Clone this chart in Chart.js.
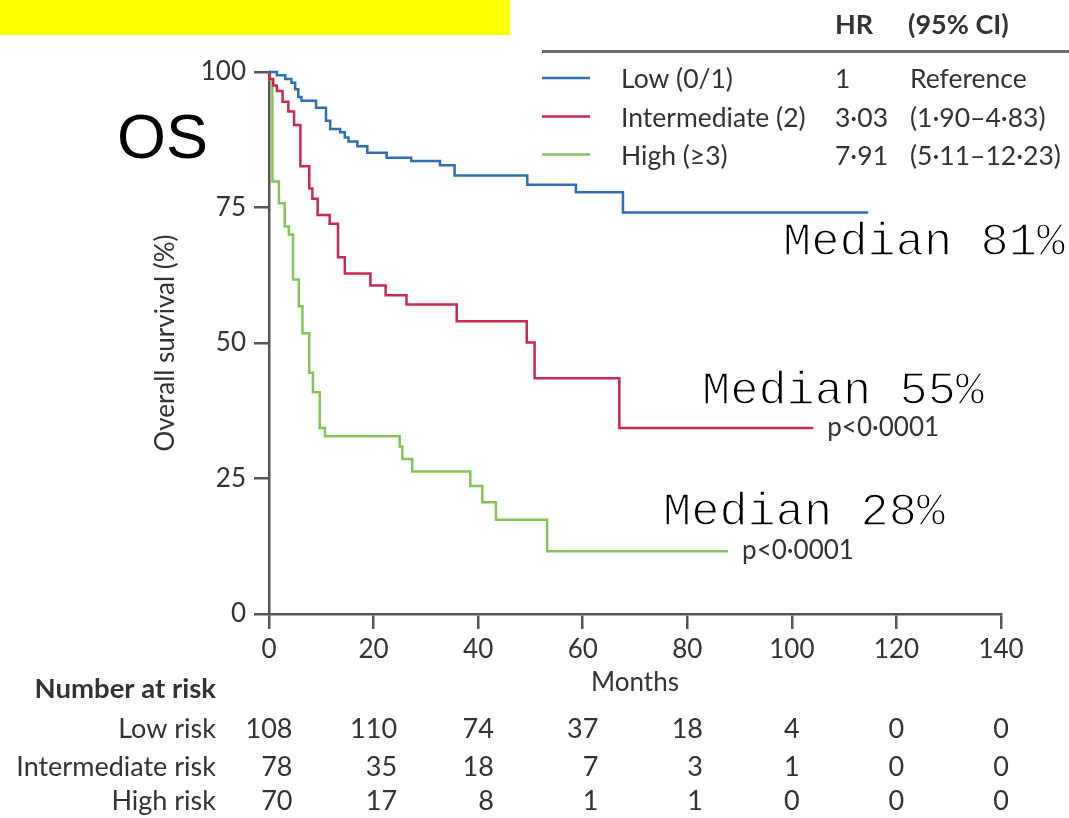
<!DOCTYPE html>
<html>
<head>
<meta charset="utf-8">
<title>Overall survival by risk group</title>
<script src="https://cdn.jsdelivr.net/npm/chart.js@4.4.1/dist/chart.umd.min.js"></script>
<style>
  html, body { margin: 0; padding: 0; background: #fff; }
  canvas { display: block; }
</style>
</head>
<body>
<canvas id="osChart" width="1069" height="818"></canvas>
<script>
// risk groups (legend) and hazard ratios
const groupNames = ["Low (0/1)", "Intermediate (2)", "High (\u22653)"];
const hrValues = ["1", "3\u00b703", "7\u00b791"];
const ciValues = ["Reference", "(1\u00b790\u20134\u00b783)", "(5\u00b711\u201312\u00b723)"];
const medianLabels = ["Median 81%", "Median 55%", "Median 28%"];
const groupColors = ["#2f6fb3", "#c9294f", "#86c45a"];

// Kaplan-Meier steps: month of drop, survival (%) after it
const lowMonths = [0, 1.5, 3.1, 4.3, 5.0, 5.6, 6.2, 9.0, 10.9, 11.7, 13.6, 14.5, 15.2, 16.9, 18.8, 22.5, 27.2, 32.7, 35.5, 49.4, 58.7, 67.7, 114.6];
const lowSurv = [100, 99.4, 98.7, 98.0, 96.8, 95.4, 94.7, 93.4, 91.0, 89.5, 88.9, 87.9, 87.2, 86.3, 85.1, 84.2, 83.6, 82.8, 80.9, 79.2, 77.8, 74.1, 74.1];

const intMonths = [0, 0.1, 0.8, 1.5, 2.6, 3.7, 4.8, 6.0, 7.7, 8.3, 9.3, 11.6, 13.2, 14.5, 19.4, 22.3, 26.3, 35.9, 49.3, 50.8, 67.0, 104.1];
const intSurv = [100, 98.7, 97.5, 96.5, 94.5, 92.7, 90.2, 82.6, 78.5, 76.6, 73.6, 72.0, 65.8, 62.8, 60.6, 58.8, 57.1, 54.0, 50.1, 43.5, 34.3, 34.3];

const highMonths = [0, 0.2, 0.65, 1.9, 3.0, 3.8, 4.6, 5.7, 6.4, 7.7, 8.4, 9.7, 10.7, 25.0, 25.5, 27.4, 38.5, 40.8, 43.4, 53.2, 87.8];
const highSurv = [100, 98.6, 79.8, 75.8, 71.5, 70.0, 61.7, 56.8, 51.8, 44.5, 40.9, 34.3, 32.8, 30.9, 28.6, 26.3, 23.6, 20.6, 17.4, 11.6, 11.6];

// number at risk table
const riskTimes = [0, 20, 40, 60, 80, 100, 120, 140];
const riskRowNames = ["Low risk", "Intermediate risk", "High risk"];
const lowAtRisk = [108, 110, 74, 37, 18, 4, 0, 0];
const intAtRisk = [78, 35, 18, 7, 3, 1, 0, 0];
const highAtRisk = [70, 17, 8, 1, 1, 0, 0, 0];

const TEXT = "#333";
const AXIS = "#555";

function toPoints(months, surv) {
  return months.map((m, i) => ({ x: m, y: surv[i] }));
}

// thin, courier-like text: fill then eat the edges back with white
function thinText(ctx, str, x, y) {
  ctx.fillStyle = "#000";
  ctx.fillText(str, x, y);
  ctx.strokeStyle = "#fff";
  ctx.lineWidth = 1.4;
  ctx.lineJoin = "round";
  ctx.strokeText(str, x, y);
}

const extras = {
  id: "osExtras",
  beforeDraw(chart) {
    const ctx = chart.ctx;
    ctx.save();
    ctx.fillStyle = "#ffff00";
    ctx.fillRect(0, 0, 510, 35);
    ctx.restore();
  },
  afterDraw(chart) {
    const ctx = chart.ctx;
    const xs = chart.scales.x;
    const ys = chart.scales.y;
    ctx.save();
    ctx.textBaseline = "alphabetic";
    ctx.textAlign = "left";

    // big OS label
    ctx.fillStyle = "#000";
    ctx.font = "63px 'Liberation Sans'";
    ctx.fillText("OS", 117, 158);

    // legend / HR table
    ctx.fillStyle = TEXT;
    ctx.font = "bold 27px Lato";
    ctx.fillText("HR", 835, 34);
    ctx.fillText("(95% CI)", 908, 34);
    ctx.strokeStyle = "#6b6b6b";
    ctx.lineWidth = 3;
    ctx.beginPath();
    ctx.moveTo(542, 51.5);
    ctx.lineTo(1069, 51.5);
    ctx.stroke();

    const lineY = [78, 116.5, 154.5];
    ctx.font = "26.5px Lato";
    groupNames.forEach((name, i) => {
      ctx.strokeStyle = groupColors[i];
      ctx.lineWidth = 2.5;
      ctx.beginPath();
      ctx.moveTo(542, lineY[i]);
      ctx.lineTo(590, lineY[i]);
      ctx.stroke();
      const base = lineY[i] + 10;
      ctx.fillStyle = TEXT;
      ctx.fillText(name, 621, base);
      ctx.fillText(hrValues[i], 835, base);
      ctx.fillText(ciValues[i], 910, base);
    });

    // median annotations
    ctx.font = "47px 'Liberation Mono'";
    thinText(ctx, medianLabels[0], 783, 255);
    thinText(ctx, medianLabels[1], 702, 404);
    thinText(ctx, medianLabels[2], 663, 525);

    // p values next to the curve ends
    ctx.fillStyle = TEXT;
    ctx.font = "26px Lato";
    [[intMonths, intSurv], [highMonths, highSurv]].forEach(([m, s]) => {
      const px = xs.getPixelForValue(m[m.length - 1]) + 14;
      const py = ys.getPixelForValue(s[s.length - 1]) + 8;
      ctx.fillText("p<0\u00b70001", px, py);
    });

    // number at risk
    ctx.textAlign = "right";
    ctx.font = "bold 27.5px Lato";
    ctx.fillText("Number at risk", 216, 698);
    const tableY = [738, 776, 810];
    const rows = [lowAtRisk, intAtRisk, highAtRisk];
    ctx.font = "27px Lato";
    riskRowNames.forEach((n, i) => ctx.fillText(n, 216, tableY[i]));
    riskTimes.forEach((t, c) => {
      const widths = rows.map(r => ctx.measureText(String(r[c])).width);
      const right = xs.getPixelForValue(t) + Math.max(...widths) / 2;
      rows.forEach((r, i) => ctx.fillText(String(r[c]), right, tableY[i]));
    });

    ctx.restore();
  }
};

function draw() {
  Chart.defaults.font.family = "Lato";
  Chart.defaults.color = TEXT;

  new Chart(document.getElementById("osChart"), {
    type: "line",
    data: {
      datasets: [
        { label: groupNames[0], data: toPoints(lowMonths, lowSurv), borderColor: groupColors[0] },
        { label: groupNames[1], data: toPoints(intMonths, intSurv), borderColor: groupColors[1] },
        { label: groupNames[2], data: toPoints(highMonths, highSurv), borderColor: groupColors[2] }
      ].map(d => Object.assign(d, { stepped: "before", borderWidth: 2.5, pointRadius: 0, fill: false, clip: false }))
    },
    options: {
      responsive: false,
      animation: false,
      devicePixelRatio: 1,
      layout: { padding: { left: 0, right: 68, top: 72, bottom: 0 } },
      plugins: { legend: { display: false }, tooltip: { enabled: false } },
      scales: {
        x: {
          type: "linear",
          min: 0,
          max: 140,
          afterFit: s => { s.height = 204; },
          ticks: { stepSize: 20, padding: 5, font: { size: 26 }, color: TEXT, maxRotation: 0 },
          grid: { drawOnChartArea: false, drawTicks: true, tickLength: 15, color: AXIS, lineWidth: 2.5 },
          border: { display: true, color: AXIS, width: 2.5 },
          title: { display: true, text: "Months", font: { size: 26 }, color: TEXT, padding: { top: 0, bottom: 120 } }
        },
        y: {
          min: 0,
          max: 100,
          afterFit: s => { s.width = 269; },
          ticks: { stepSize: 25, padding: 8, font: { size: 26 }, color: TEXT },
          grid: { drawOnChartArea: false, drawTicks: true, tickLength: 15, color: AXIS, lineWidth: 2.5 },
          border: { display: true, color: AXIS, width: 2.5 },
          title: { display: true, text: "Overall survival (%)", font: { size: 26 }, color: TEXT, padding: { top: 150, bottom: 0 } }
        }
      }
    },
    plugins: [extras]
  });
}

Promise.all([
  document.fonts.load("26px Lato"),
  document.fonts.load("bold 27px Lato"),
  document.fonts.load("47px 'Liberation Mono'"),
  document.fonts.load("63px 'Liberation Sans'")
]).then(draw, draw);
</script>
</body>
</html>
